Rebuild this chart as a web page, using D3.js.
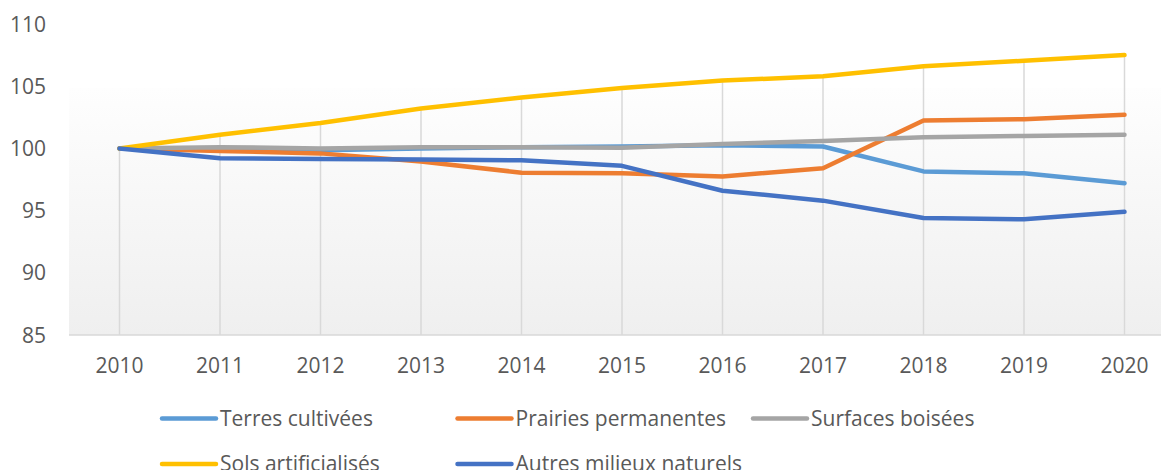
<!DOCTYPE html>
<meta charset="utf-8">
<head>
<style>
  body { margin: 0; background: #fff; }
  text { font-family: "Open Sans", sans-serif; fill: #595959; }
</style>
</head>
<title>Occupation des sols</title>
<script src="https://d3js.org/d3.v7.min.js"></script>

<div id="chart"></div>
<script>
// years along the x axis
var years = ["2010","2011","2012","2013","2014","2015","2016","2017","2018","2019","2020"];
var yTicks = [85, 90, 95, 100, 105, 110];

// indices, base 100 in 2010
var terres     = [100, 99.9, 99.85, 100.0, 100.1, 100.15, 100.25, 100.15, 98.15, 98.0, 97.2];
var prairies   = [100, 99.8, 99.6, 98.95, 98.05, 98.0, 97.75, 98.4, 102.25, 102.35, 102.7];
var surfaces   = [100, 100.1, 100.0, 100.1, 100.1, 100.05, 100.35, 100.6, 100.9, 101.0, 101.1];
var sols       = [100, 101.1, 102.05, 103.2, 104.1, 104.85, 105.45, 105.8, 106.6, 107.05, 107.5];
var autres     = [100, 99.2, 99.15, 99.1, 99.05, 98.6, 96.6, 95.8, 94.4, 94.3, 94.9];

var seriesNames = ["Terres cultivées", "Prairies permanentes", "Surfaces boisées", "Sols artificialisés", "Autres milieux naturels"];
var seriesValues = [terres, prairies, surfaces, sols, autres];
var colors = ["#5B9BD5", "#ED7D31", "#A5A5A5", "#FFC000", "#4472C4"];

var W = 1161, H = 470;

var svg = d3.select("#chart")
  .append("svg")
    .attr("width", W)
    .attr("height", H);

var x = d3.scalePoint()
  .domain(years)
  .range([119.5, 1124.5]);

var y = d3.scaleLinear()
  .domain([85, 110])
  .range([335, 24]);

// plot area background (soft gradient)
var grad = svg.append("defs").append("linearGradient")
  .attr("id", "bg")
  .attr("x1", 0).attr("y1", 0).attr("x2", 0).attr("y2", 1);
grad.append("stop").attr("offset", "0%").attr("stop-color", "#fefefe");
grad.append("stop").attr("offset", "100%").attr("stop-color", "#efefef");

svg.append("rect")
  .attr("x", 69)
  .attr("y", 88)
  .attr("width", W - 69)
  .attr("height", y(85) - 88)
  .attr("fill", "url(#bg)");

// drop lines from the highest point down to the axis
svg.selectAll("line.drop")
  .data(years)
  .enter()
  .append("line")
  .attr("class", "drop")
  .attr("x1", function(d) { return x(d); })
  .attr("x2", function(d) { return x(d); })
  .attr("y1", function(d, i) { return y(d3.max(seriesValues, function(s) { return s[i]; })); })
  .attr("y2", y(85))
  .attr("stroke", "#d9d9d9")
  .attr("stroke-width", 1.5);

// category axis line
svg.append("line")
  .attr("x1", 69).attr("x2", W)
  .attr("y1", y(85)).attr("y2", y(85))
  .attr("stroke", "#d9d9d9")
  .attr("stroke-width", 1.5);

// y tick labels
svg.selectAll("text.ytick")
  .data(yTicks)
  .enter()
  .append("text")
  .attr("class", "ytick")
  .attr("x", 46)
  .attr("y", function(d) { return y(d) + 7.5; })
  .attr("text-anchor", "end")
  .style("font-size", "21px")
  .text(function(d) { return d; });

// x tick labels
svg.selectAll("text.xtick")
  .data(years)
  .enter()
  .append("text")
  .attr("class", "xtick")
  .attr("x", function(d) { return x(d); })
  .attr("y", 373)
  .attr("text-anchor", "middle")
  .style("font-size", "21px")
  .text(function(d) { return d; });

// lines
var line = d3.line()
  .x(function(d, i) { return x(years[i]); })
  .y(function(d) { return y(d); });

svg.selectAll("path.series")
  .data(seriesValues)
  .enter()
  .append("path")
  .attr("class", "series")
  .attr("d", line)
  .attr("fill", "none")
  .attr("stroke", function(d, i) { return colors[i]; })
  .attr("stroke-width", 4.5)
  .attr("stroke-linejoin", "round")
  .attr("stroke-linecap", "round");

// legend, 3 columns
var legend = svg.selectAll("g.legend")
  .data(seriesNames)
  .enter()
  .append("g")
  .attr("class", "legend")
  .attr("transform", function(d, i) {
    var col = i % 3, row = Math.floor(i / 3);
    return "translate(" + (162 + col * 295.5) + "," + (418.5 + row * 45.5) + ")";
  });

legend.append("line")
  .attr("x1", 0).attr("x2", 54)
  .attr("y1", 0).attr("y2", 0)
  .attr("stroke", function(d, i) { return colors[i]; })
  .attr("stroke-width", 4.5)
  .attr("stroke-linecap", "round");

legend.append("text")
  .attr("x", 58)
  .attr("y", 7)
  .style("font-size", "21px")
  .text(function(d) { return d; });
</script>
